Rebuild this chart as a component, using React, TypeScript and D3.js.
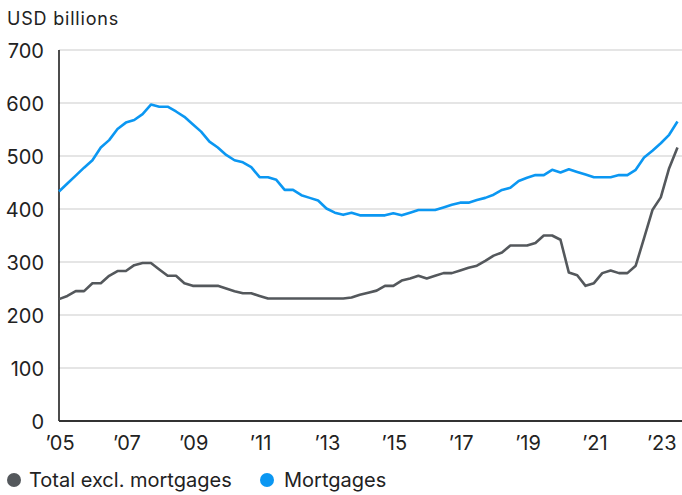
import React from "react";
import * as d3 from "d3";

const yTicks = [0, 100, 200, 300, 400, 500, 600, 700];
const xTickYears = [2005, 2007, 2009, 2011, 2013, 2015, 2017, 2019, 2021, 2023];
const xTickLabels = ["’05", "’07", "’09", "’11", "’13", "’15", "’17", "’19", "’21", "’23"];

// quarterly observations, 2005 Q1 .. 2023 Q3
const mortgages = [
  433, 448, 463, 478, 492, 516, 530, 551, 563, 568,
  579, 597, 593, 593, 584, 574, 560, 546, 527, 516,
  502, 492, 488, 479, 460, 460, 455, 436, 436, 426,
  421, 416, 401, 393, 389, 393, 388, 388, 388, 388,
  392, 388, 393, 398, 398, 398, 403, 408, 412, 412,
  417, 421, 427, 436, 440, 453, 459, 464, 464, 474,
  469, 475, 470, 465, 460, 460, 460, 464, 464, 474,
  497, 510, 524, 540, 565,
];
const totalExclMortgages = [
  230, 236, 245, 245, 260, 260, 274, 283, 283, 294,
  298, 298, 286, 274, 274, 260, 255, 255, 255, 255,
  250, 245, 241, 241, 236, 231, 231, 231, 231, 231,
  231, 231, 231, 231, 231, 233, 238, 242, 246, 255,
  255, 265, 269, 274, 269, 274, 279, 279, 284, 289,
  293, 302, 312, 318, 331, 331, 331, 336, 350, 350,
  342, 280, 275, 255, 260, 279, 284, 279, 279, 293,
  345, 398, 422, 477, 516,
];
const startYear = 2005;
const periods = mortgages.map((_, i) => startYear + i / 4);

const W = 682;
const H = 495;
const FONT = "Inter, 'Noto Sans', sans-serif";
const GRAY = "#54585c";
const BLUE = "#0b97f2";
const TEXT = "#222";

export default function App() {
  const x = d3.scaleLinear().domain([2005, 2023.5]).range([59, 677.5]);
  const y = d3.scaleLinear().domain([0, 700]).range([421, 50]);
  const line = d3
    .line<number>()
    .x((_, i) => x(periods[i]))
    .y((d) => y(d));

  return (
    <svg
      width={W}
      height={H}
      style={{ position: "absolute", left: 0, top: 0, background: "#fff" }}
      fontFamily={FONT}
    >
      <text x={7} y={25} fontSize={18} letterSpacing={0.8} fill={TEXT}>
        USD billions
      </text>
      {yTicks.map((t) => (
        <g key={t}>
          {t > 0 && (
            <line x1={59} x2={W} y1={y(t)} y2={y(t)} stroke="#cccccc" strokeWidth={1.2} />
          )}
          <text x={44} y={y(t) + 7.5} textAnchor="end" fontSize={20} fill={TEXT}>
            {t}
          </text>
        </g>
      ))}
      <line x1={59} x2={59} y1={50} y2={421} stroke="#111" strokeWidth={1.5} />
      <line x1={59} x2={W} y1={421} y2={421} stroke="#333" strokeWidth={2} />
      {xTickYears.map((yr, i) => (
        <text key={yr} x={x(yr) + 1} y={450} textAnchor="middle" fontSize={20} fill={TEXT}>
          {xTickLabels[i]}
        </text>
      ))}
      <path
        d={line(totalExclMortgages) || ""}
        fill="none"
        stroke={GRAY}
        strokeWidth={2.6}
        strokeLinejoin="round"
      />
      <path
        d={line(mortgages) || ""}
        fill="none"
        stroke={BLUE}
        strokeWidth={2.6}
        strokeLinejoin="round"
      />
      <g fontSize={20} fill={TEXT}>
        <circle cx={14} cy={480} r={7} fill={GRAY} />
        <text x={29} y={487}>
          Total excl. mortgages
        </text>
        <circle cx={267} cy={480} r={7} fill={BLUE} />
        <text x={284} y={487}>
          Mortgages
        </text>
      </g>
    </svg>
  );
}
